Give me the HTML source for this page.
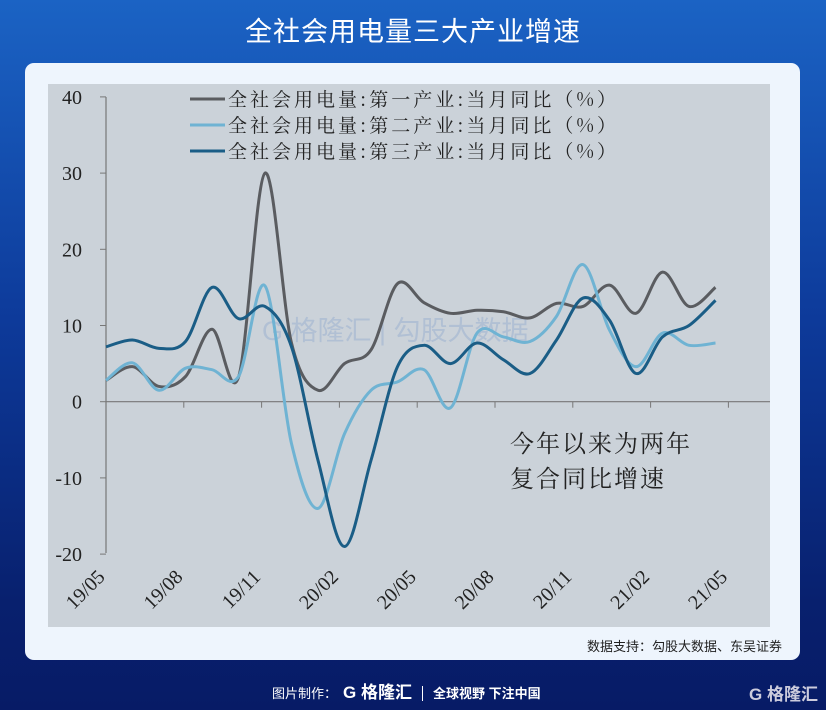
<!DOCTYPE html>
<html><head><meta charset="utf-8">
<style>
body{margin:0;width:826px;height:710px;overflow:hidden;background:linear-gradient(180deg,#1b63c4 0%,#0d3a9a 45%,#08206e 85%,#071b66 100%);font-family:"Liberation Sans","Noto Sans CJK SC",sans-serif;position:relative}
#title{position:absolute;top:10px;left:0;width:826px;text-align:center;color:#fff;font-size:27px;letter-spacing:1px}
#card{position:absolute;left:25px;top:63px;width:775px;height:597px;background:#eef5fd;border-radius:9px}
#src{position:absolute;right:44px;top:636px;font-size:13px;color:#222}
#foot{position:absolute;top:678px;left:272px;color:#fff;font-size:13px}
</style></head><body>
<div id="title">全社会用电量三大产业增速</div>
<div id="card"></div>
<svg id="chart" width="826" height="710" style="position:absolute;left:0;top:0"></svg>
<div id="src">数据支持：勾股大数据、东吴证券</div>
<div id="foot">图片制作：<b style="font-size:17px;margin-left:6px">G 格隆汇</b><span style="border-left:1px solid #fff;margin:0 10px;"></span><b>全球视野 下注中国</b></div>
<div style="position:absolute;right:8px;top:680px;color:#ccd;font-size:17px;font-weight:bold">G 格隆汇</div>
<script>
const xLabels=["19/05","19/08","19/11","20/02","20/05","20/08","20/11","21/02","21/05"];
const yTicks=[40,30,20,10,0,-10,-20];
const primary=[2.8,4.6,2.0,3.3,9.5,3.2,30,7.7,1.5,5,6.8,15.5,13.0,11.6,12,11.8,11,12.9,12.5,15.3,11.6,17,12.5,15];
const secondary=[2.8,5.1,1.5,4.4,4.2,3.3,15.2,-5.5,-14,-4.2,1.5,2.6,4.2,-0.8,9,8.5,7.9,11.2,18,9.4,4.6,9,7.4,7.7];
const tertiary=[7.2,8.1,7,7.9,15,10.9,12.5,7.2,-7.7,-19,-7.7,4.6,7.4,5,7.7,5.5,3.7,8.1,13.6,10.7,3.7,8.5,10,13.3];
const seriesNames=["全社会用电量:第一产业:当月同比（%）","全社会用电量:第二产业:当月同比（%）","全社会用电量:第三产业:当月同比（%）"];
const colors=["#5a5c60","#6fb3d3","#1a5d86"];
const NS="http://www.w3.org/2000/svg";
const svg=document.getElementById('chart');
function y(v){return 401.7-v*7.62;}
function xp(i){return 106+i*26.5;}
function xt(k){return 106+k*77.8;}
function mk(t,a){const e=document.createElementNS(NS,t);for(const k in a)e.setAttribute(k,a[k]);svg.appendChild(e);return e;}
const bg=mk('rect',{x:48,y:84,width:722,height:543,fill:'#cbd2d9'});


const ax=mk('line',{x1:106,y1:97,x2:106,y2:553,stroke:'#777','stroke-width':1.2});


yTicks.forEach(v=>{
 mk('line',{x1:100,x2:106,y1:y(v),y2:y(v),stroke:'#777'});
 const t=mk('text',{x:82,y:y(v)+7,'text-anchor':'end','font-size':20,fill:'#222','font-family':'Liberation Serif,serif'});
 t.textContent=v;
 
 
});
const xa=mk('line',{x1:106,y1:y(0),x2:770,y2:y(0),stroke:'#777','stroke-width':1.2});


xLabels.forEach((l,k)=>{
 const X=xt(k);
 if(k>0)mk('line',{x1:X,x2:X,y1:y(0),y2:y(0)+6,stroke:'#777'});
 const t=mk('text',{x:X,y:578,'text-anchor':'end','font-size':20,fill:'#222','font-family':'Liberation Serif,serif',transform:`rotate(-45 ${X} 578)`});
 t.textContent=l;
 
 
});
function path(d){
 const p=d.map((v,i)=>[xp(i),y(v)]);
 let s=`M${p[0][0]},${p[0][1]}`;
 for(let i=0;i<p.length-1;i++){
  const p0=p[i-1]||p[i],p1=p[i],p2=p[i+1],p3=p[i+2]||p2;
  s+=`C${p1[0]+(p2[0]-p0[0])/6},${p1[1]+(p2[1]-p0[1])/6} ${p2[0]-(p3[0]-p1[0])/6},${p2[1]-(p3[1]-p1[1])/6} ${p2[0]},${p2[1]}`;
 }
 return s;
}
const wm=mk('text',{x:262,y:340,'font-size':27,fill:'#a5b8d2','fill-opacity':0.7});
wm.textContent='G 格隆汇 | 勾股大数据';


[primary,secondary,tertiary].forEach((d,i)=>{
 const e=mk('path',{d:path(d),fill:'none',stroke:colors[i],'stroke-width':3});
 
 
});
seriesNames.forEach((n,i)=>{
 const yy=99+i*26;
 const l=mk('line',{x1:190,x2:225,y1:yy,y2:yy,stroke:colors[i],'stroke-width':3});
 
 
 const t=mk('text',{x:228,y:yy+7,'font-size':19,fill:'#222','letter-spacing':'3','font-family':'Noto Serif CJK SC,serif'});
 t.textContent=n;
 
 
});
['今年以来为两年','复合同比增速'].forEach((s,i)=>{
 const t=mk('text',{x:510,y:452+i*35,'font-size':24,fill:'#222','letter-spacing':'2','font-family':'Noto Serif CJK SC,serif'});
 t.textContent=s;
 
 
});
</script>
</body></html>
